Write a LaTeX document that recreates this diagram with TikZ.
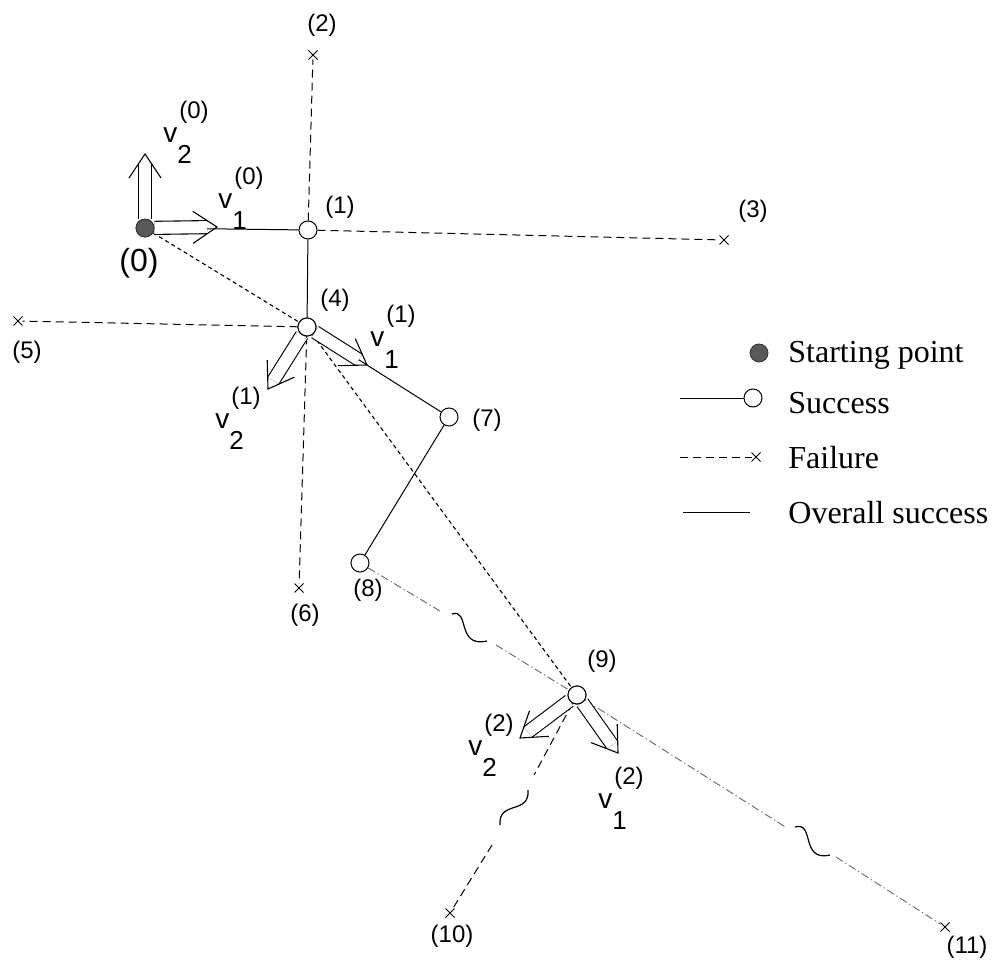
\documentclass[tikz,border=0pt]{standalone}
\usepackage{fontspec}
\setmainfont{Liberation Serif}
\newfontfamily\lblfont{Liberation Sans}
\usetikzlibrary{calc,shapes.misc}

% direction label: v with subscript below-right and bracketed superscript above-right
\newcommand\vlab[2]{{\lblfont\fontsize{14}{14}\selectfont v\rlap{\raisebox{-10.5pt}{\fontsize{13}{13}\selectfont #1}}\raisebox{12pt}{\kern1pt\fontsize{12}{12}\selectfont(#2)}}}

% hollow (double-shaft) arrow from a node to a tip coordinate
\newcommand\harrow[2]{%
  \draw[double, double distance=6pt, line width=0.55pt, shorten >=5pt] (#1) -- (#2);
  \draw[line width=0.55pt, line join=miter] ($(#2)!12pt!(#1)!8pt!90:(#2)$) -- (#2) -- ($(#2)!12pt!(#1)!8pt!-90:(#2)$);
}

\tikzset{
  x=0.5pt, y=-0.5pt,
  startdot/.style={circle, draw=black!80, fill=black!65, minimum size=9pt, inner sep=0pt},
  succ/.style={circle, draw, fill=white, line width=0.5pt, minimum size=9pt, inner sep=0pt},
  fail/.style={cross out, draw, line width=0.5pt, minimum size=4pt, inner sep=0pt},
  lbl/.style={font=\lblfont\fontsize{12}{12}\selectfont, inner sep=0pt},
  legtxt/.style={font=\fontsize{16}{16}\selectfont, anchor=base west, inner sep=0pt},
  vtxt/.style={anchor=base west, inner sep=0pt},
  succline/.style={line width=0.5pt},
  faildash/.style={line width=0.5pt, dash pattern=on 4pt off 2.5pt},
  diagdash/.style={line width=0.55pt, dash pattern=on 2pt off 1.6pt},
  overall/.style={line width=0.45pt, black!60, dash pattern=on 4pt off 1.5pt on 0.6pt off 1.5pt},
  squig/.style={line width=0.6pt},
}

\begin{document}
\begin{tikzpicture}
\useasboundingbox (0,0) rectangle (1004,967);

% search points
\node[startdot] (n0) at (145,228) {};
\node[succ] (n1) at (308,230) {};
\node[fail] (n2) at (313,55) {};
\node[fail] (n3) at (724,240) {};
\node[succ] (n4) at (307,327) {};
\node[fail] (n5) at (18,321) {};
\node[fail] (n6) at (299,588) {};
\node[succ] (n7) at (449,417) {};
\node[succ] (n8) at (360,563) {};
\node[succ] (n9) at (577,695) {};
\node[fail] (n10) at (450,913) {};
\node[fail] (n11) at (945,927) {};

% point labels
\node[lbl, font=\lblfont\fontsize{16}{16}\selectfont] (l0) at (139,263) {(0)};
\node[lbl] (l1) at (340,207) {(1)};
\node[lbl] (l2) at (322,25) {(2)};
\node[lbl] (l3) at (753,211) {(3)};
\node[lbl] (l4) at (335,300) {(4)};
\node[lbl] (l5) at (27,352) {(5)};
\node[lbl] (l6) at (305,615) {(6)};
\node[lbl] (l7) at (487,420) {(7)};
\node[lbl] (l8) at (368,590) {(8)};
\node[lbl] (l9) at (602,661) {(9)};
\node[lbl] (l10) at (452,936) {(10)};
\node[lbl] (l11) at (967,947) {(11)};

% successful moves
\draw[succline] (n0) -- (n1);
\draw[succline] (n1) -- (n4);
\draw[succline] (n4) -- (n7);
\draw[succline] (n7) -- (n8);

% failed moves
\draw[faildash] (n1) -- (n2);
\draw[faildash] (n1) -- (n3);
\draw[faildash] (n4) -- (n5);
\draw[faildash] (n4) -- (n6);

% overall progress between stages
\draw[diagdash] (n0) -- (n4);
\draw[diagdash] (n4) -- (n9);

% pattern moves with breaks
\coordinate (b1a) at (440,611);
\coordinate (b1b) at (452,614);
\coordinate (b1c) at (487,641);
\coordinate (b1d) at (496,645);
\draw[overall] (n8) -- (b1a);
\draw[squig] (b1b) .. controls (470,608) and (456,648) .. (b1c);
\draw[overall] (b1d) -- (n9);

\coordinate (b2a) at (787,828);
\coordinate (b2b) at (795,827);
\coordinate (b2c) at (830,855);
\coordinate (b2d) at (836,857);
\draw[overall] (n9) -- (b2a);
\draw[squig] (b2b) .. controls (815,821) and (800,862) .. (b2c);
\draw[overall] (b2d) -- (n11);

\coordinate (b3a) at (534,775);
\coordinate (b3b) at (528,790);
\coordinate (b3c) at (500,825);
\coordinate (b3d) at (492,845);
\draw[faildash] (n9) -- (b3a);
\draw[squig] (b3b) .. controls (530,815) and (498,800) .. (b3c);
\draw[faildash] (b3d) -- (n10);

% search directions
\coordinate (t20) at (145,154);
\coordinate (t10) at (217,227);
\coordinate (t11) at (367,365);
\coordinate (t21) at (268,389);
\coordinate (t12) at (618,753);
\coordinate (t22) at (520,738);
\harrow{n0}{t20}
\harrow{n0}{t10}
\harrow{n4}{t11}
\harrow{n4}{t21}
\harrow{n9}{t12}
\harrow{n9}{t22}

% redraw markers on top of the arrow shafts
\node[startdot] (n0top) at (n0) {};
\node[succ] (n4top) at (n4) {};
\node[succ] (n9top) at (n9) {};

\node[vtxt] (v20) at (163,143) {\vlab{2}{0}};
\node[vtxt] (v10) at (218,209) {\vlab{1}{0}};
\node[vtxt] (v11) at (370,347) {\vlab{1}{1}};
\node[vtxt] (v21) at (215,428) {\vlab{2}{1}};
\node[vtxt] (v22) at (468,755) {\vlab{2}{2}};
\node[vtxt] (v12) at (598,808) {\vlab{1}{2}};

% legend
\node[startdot] (ks) at (759,353) {};
\node[legtxt] (ts) at (788,363) {Starting point};
\coordinate (ka) at (680,398);
\node[succ] (kc) at (753,398) {};
\draw[succline] (ka) -- (kc);
\node[legtxt] (tsu) at (788,413) {Success};
\coordinate (kb) at (680,457);
\node[fail] (kx) at (756,457) {};
\draw[faildash] (kb) -- (kx);
\node[legtxt] (tf) at (788,468) {Failure};
\coordinate (kd) at (683,512);
\coordinate (ke) at (750,512);
\draw[succline] (kd) -- (ke);
\node[legtxt] (to) at (788,523) {Overall success};
\end{tikzpicture}
\end{document}
